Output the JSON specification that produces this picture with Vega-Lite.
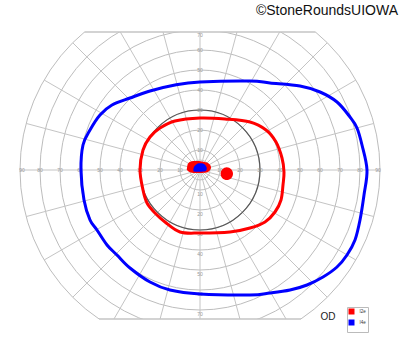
{
  "$schema": "https://vega.github.io/schema/vega-lite/v6.json",
  "width": 400,
  "height": 287,
  "autosize": {"type": "none"},
  "padding": {"left": 0, "right": 0, "top": 32, "bottom": 33},
  "background": "white",
  "view": {"stroke": null},
  "title": {"text": "©StoneRoundsUIOWA", "anchor": "end", "frame": "group", "font": "Liberation Sans", "fontSize": 14, "fontWeight": "normal", "color": "#111", "offset": 13, "dx": -2},
  "layer": [
    {
      "data": {"values": [{"r": 5}, {"r": 10}, {"r": 20}, {"r": 30}, {"r": 40}, {"r": 50}, {"r": 60}, {"r": 70}, {"r": 80}, {"r": 90}]},
      "mark": {"type": "point", "shape": "circle", "filled": false, "stroke": "#bdbdbd", "strokeWidth": 1, "opacity": 1, "clip": true},
      "encoding": {
        "x": {"datum": 0, "type": "quantitative", "scale": {"domain": [-100, 100], "nice": false, "zero": false}, "axis": null},
        "y": {"datum": 0, "type": "quantitative", "scale": {"domain": [-74.5, 69], "nice": false, "zero": false}, "axis": null},
        "size": {"field": "r", "type": "quantitative", "scale": {"type": "pow", "exponent": 2, "domain": [0, 90], "range": [0, 129600], "zero": true}, "legend": null}
      }
    },
    {
      "data": {"values": [
        {"x": -90, "y": 0, "x2": 90, "y2": 0},
        {"x": -86.93, "y": -23.29, "x2": 86.93, "y2": 23.29},
        {"x": -77.94, "y": -45, "x2": 77.94, "y2": 45},
        {"x": -63.64, "y": -63.64, "x2": 63.64, "y2": 63.64},
        {"x": -45, "y": -77.94, "x2": 45, "y2": 77.94},
        {"x": -23.29, "y": -86.93, "x2": 23.29, "y2": 86.93},
        {"x": 0, "y": -90, "x2": 0, "y2": 90},
        {"x": 23.29, "y": -86.93, "x2": -23.29, "y2": 86.93},
        {"x": 45, "y": -77.94, "x2": -45, "y2": 77.94},
        {"x": 63.64, "y": -63.64, "x2": -63.64, "y2": 63.64},
        {"x": 77.94, "y": -45, "x2": -77.94, "y2": 45},
        {"x": 86.93, "y": -23.29, "x2": -86.93, "y2": 23.29}
      ]},
      "mark": {"type": "rule", "stroke": "#c4c4c4", "strokeWidth": 1, "clip": true},
      "encoding": {
        "x": {"field": "x", "type": "quantitative", "axis": null},
        "y": {"field": "y", "type": "quantitative", "axis": null},
        "x2": {"field": "x2"},
        "y2": {"field": "y2"}
      }
    },
    {
      "data": {"values": [{"r": 30}]},
      "mark": {"type": "point", "shape": "circle", "filled": false, "stroke": "#555555", "strokeWidth": 1.2, "opacity": 1, "clip": true},
      "encoding": {
        "x": {"datum": 0, "type": "quantitative", "axis": null},
        "y": {"datum": 0, "type": "quantitative", "axis": null},
        "size": {"field": "r", "type": "quantitative", "legend": null}
      }
    },
    {
      "data": {"values": [{"x": -57.8, "x2": 57.8, "y": 69}, {"x": -50.5, "x2": 50.5, "y": -74.5}]},
      "mark": {"type": "rule", "stroke": "#c4c4c4", "strokeWidth": 1.5},
      "encoding": {
        "x": {"field": "x", "type": "quantitative", "axis": null},
        "x2": {"field": "x2"},
        "y": {"field": "y", "type": "quantitative", "axis": null}
      }
    },
    {
      "data": {"values": [
        {"t": "10", "x": -10, "y": 0}, {"t": "20", "x": -20, "y": 0}, {"t": "30", "x": -30, "y": 0}, {"t": "40", "x": -40, "y": 0}, {"t": "50", "x": -50, "y": 0}, {"t": "60", "x": -60, "y": 0}, {"t": "70", "x": -70, "y": 0}, {"t": "80", "x": -80, "y": 0}, {"t": "90", "x": -89, "y": 0},
        {"t": "10", "x": 10, "y": 0}, {"t": "20", "x": 20, "y": 0}, {"t": "30", "x": 30, "y": 0}, {"t": "40", "x": 40, "y": 0}, {"t": "50", "x": 50, "y": 0}, {"t": "60", "x": 60, "y": 0}, {"t": "70", "x": 70, "y": 0}, {"t": "80", "x": 80, "y": 0}, {"t": "90", "x": 89, "y": 0},
        {"t": "10", "x": 0, "y": 10}, {"t": "20", "x": 0, "y": 20}, {"t": "30", "x": 0, "y": 30}, {"t": "40", "x": 0, "y": 40}, {"t": "50", "x": 0, "y": 50}, {"t": "60", "x": 0, "y": 60}, {"t": "70", "x": 0, "y": 67.5},
        {"t": "10", "x": 0, "y": -12}, {"t": "20", "x": 0, "y": -22}, {"t": "30", "x": 0, "y": -32}, {"t": "40", "x": 0, "y": -42}, {"t": "50", "x": 0, "y": -52}, {"t": "60", "x": 0, "y": -62}, {"t": "70", "x": 0, "y": -72}
      ]},
      "mark": {"type": "text", "fontSize": 5, "font": "Liberation Sans", "color": "#999999", "baseline": "middle", "align": "center"},
      "encoding": {
        "x": {"field": "x", "type": "quantitative", "axis": null},
        "y": {"field": "y", "type": "quantitative", "axis": null},
        "text": {"field": "t"}
      }
    },
    {
      "data": {"values": [
        {"isopter": "I4e", "i": 1, "x": 0, "y": 44},
        {"isopter": "I4e", "i": 2, "x": 25, "y": 44.5},
        {"isopter": "I4e", "i": 3, "x": 35, "y": 43.5},
        {"isopter": "I4e", "i": 4, "x": 50, "y": 42},
        {"isopter": "I4e", "i": 5, "x": 60, "y": 39},
        {"isopter": "I4e", "i": 6, "x": 68.5, "y": 34},
        {"isopter": "I4e", "i": 7, "x": 75, "y": 26.5},
        {"isopter": "I4e", "i": 8, "x": 78.5, "y": 21},
        {"isopter": "I4e", "i": 9, "x": 81, "y": 12.5},
        {"isopter": "I4e", "i": 10, "x": 83.5, "y": 0},
        {"isopter": "I4e", "i": 11, "x": 82, "y": -12.5},
        {"isopter": "I4e", "i": 12, "x": 80, "y": -25},
        {"isopter": "I4e", "i": 13, "x": 77.5, "y": -35},
        {"isopter": "I4e", "i": 14, "x": 73.5, "y": -42.5},
        {"isopter": "I4e", "i": 15, "x": 68.5, "y": -48.5},
        {"isopter": "I4e", "i": 16, "x": 61.5, "y": -53.5},
        {"isopter": "I4e", "i": 17, "x": 53.5, "y": -57.5},
        {"isopter": "I4e", "i": 18, "x": 45, "y": -60},
        {"isopter": "I4e", "i": 19, "x": 35, "y": -61.5},
        {"isopter": "I4e", "i": 20, "x": 25, "y": -62.5},
        {"isopter": "I4e", "i": 21, "x": 0, "y": -62},
        {"isopter": "I4e", "i": 22, "x": -15, "y": -60},
        {"isopter": "I4e", "i": 23, "x": -25, "y": -56},
        {"isopter": "I4e", "i": 24, "x": -35, "y": -49},
        {"isopter": "I4e", "i": 25, "x": -41.5, "y": -42.5},
        {"isopter": "I4e", "i": 26, "x": -46.5, "y": -37.5},
        {"isopter": "I4e", "i": 27, "x": -51.5, "y": -30},
        {"isopter": "I4e", "i": 28, "x": -55, "y": -25},
        {"isopter": "I4e", "i": 29, "x": -58, "y": -15},
        {"isopter": "I4e", "i": 30, "x": -59.5, "y": 0},
        {"isopter": "I4e", "i": 31, "x": -58.5, "y": 12.5},
        {"isopter": "I4e", "i": 32, "x": -55, "y": 20},
        {"isopter": "I4e", "i": 33, "x": -50, "y": 27.5},
        {"isopter": "I4e", "i": 34, "x": -44, "y": 32.5},
        {"isopter": "I4e", "i": 35, "x": -35, "y": 36},
        {"isopter": "I4e", "i": 36, "x": -25, "y": 39.5},
        {"isopter": "I4e", "i": 37, "x": -12.5, "y": 42.5},
        {"isopter": "I2e", "i": 1, "x": -30, "y": 0},
        {"isopter": "I2e", "i": 2, "x": -28.5, "y": -10},
        {"isopter": "I2e", "i": 3, "x": -26.5, "y": -16.5},
        {"isopter": "I2e", "i": 4, "x": -22.5, "y": -21.5},
        {"isopter": "I2e", "i": 5, "x": -17.5, "y": -26},
        {"isopter": "I2e", "i": 6, "x": -10, "y": -31},
        {"isopter": "I2e", "i": 7, "x": 0, "y": -31.5},
        {"isopter": "I2e", "i": 8, "x": 15, "y": -31},
        {"isopter": "I2e", "i": 9, "x": 25, "y": -29},
        {"isopter": "I2e", "i": 10, "x": 32.5, "y": -26},
        {"isopter": "I2e", "i": 11, "x": 37.5, "y": -21},
        {"isopter": "I2e", "i": 12, "x": 40.5, "y": -15},
        {"isopter": "I2e", "i": 13, "x": 41.5, "y": -7.5},
        {"isopter": "I2e", "i": 14, "x": 42, "y": -1},
        {"isopter": "I2e", "i": 15, "x": 41, "y": 6},
        {"isopter": "I2e", "i": 16, "x": 38, "y": 14},
        {"isopter": "I2e", "i": 17, "x": 33, "y": 20},
        {"isopter": "I2e", "i": 18, "x": 25, "y": 24},
        {"isopter": "I2e", "i": 19, "x": 12.5, "y": 25.5},
        {"isopter": "I2e", "i": 20, "x": 0, "y": 26},
        {"isopter": "I2e", "i": 21, "x": -12.5, "y": 24.5},
        {"isopter": "I2e", "i": 22, "x": -20, "y": 21},
        {"isopter": "I2e", "i": 23, "x": -25, "y": 16.5},
        {"isopter": "I2e", "i": 24, "x": -28.5, "y": 10}
      ]},
      "mark": {"type": "line", "strokeWidth": 3, "interpolate": "cardinal-closed"},
      "encoding": {
        "x": {"field": "x", "type": "quantitative", "axis": null},
        "y": {"field": "y", "type": "quantitative", "axis": null},
        "order": {"field": "i", "type": "quantitative"},
        "color": {"field": "isopter", "type": "nominal", "scale": {"domain": ["I2e", "I4e"], "range": ["#ff0000", "#0000ff"]}, "legend": {"title": null, "orient": "none", "legendX": 347, "legendY": 275, "symbolType": "square", "symbolSize": 9, "symbolFillColor": "transparent", "symbolStrokeWidth": 3, "labelFontSize": 4.5, "labelFont": "Liberation Sans", "labelColor": "#333333", "labelOffset": 5, "rowPadding": -11.5, "padding": 1.5, "strokeColor": "#bbbbbb", "fillColor": "#ffffff"}}
      }
    },
    {
      "data": {"values": [
        {"isopter": "I2e", "spot": "a", "i": 1, "x": -6.5, "y": 1},
        {"isopter": "I2e", "spot": "a", "i": 2, "x": -6, "y": 3.2},
        {"isopter": "I2e", "spot": "a", "i": 3, "x": -4.5, "y": 4.3},
        {"isopter": "I2e", "spot": "a", "i": 4, "x": -2, "y": 4.5},
        {"isopter": "I2e", "spot": "a", "i": 5, "x": 1, "y": 4.3},
        {"isopter": "I2e", "spot": "a", "i": 6, "x": 3.5, "y": 3.7},
        {"isopter": "I2e", "spot": "a", "i": 7, "x": 5, "y": 2.6},
        {"isopter": "I2e", "spot": "a", "i": 8, "x": 5.5, "y": 1},
        {"isopter": "I2e", "spot": "a", "i": 9, "x": 4.5, "y": -0.6},
        {"isopter": "I2e", "spot": "a", "i": 10, "x": 2.5, "y": -1.4},
        {"isopter": "I2e", "spot": "a", "i": 11, "x": -2.5, "y": -1.5},
        {"isopter": "I2e", "spot": "a", "i": 12, "x": -5, "y": -1.1},
        {"isopter": "I2e", "spot": "a", "i": 13, "x": -6.5, "y": 0},
        {"isopter": "I2e", "spot": "b", "i": 1, "x": 16.5, "y": -1.85},
        {"isopter": "I2e", "spot": "b", "i": 2, "x": 15.6, "y": 0.4},
        {"isopter": "I2e", "spot": "b", "i": 3, "x": 13.4, "y": 1.35},
        {"isopter": "I2e", "spot": "b", "i": 4, "x": 11.2, "y": 0.4},
        {"isopter": "I2e", "spot": "b", "i": 5, "x": 10.3, "y": -1.85},
        {"isopter": "I2e", "spot": "b", "i": 6, "x": 11.2, "y": -4.1},
        {"isopter": "I2e", "spot": "b", "i": 7, "x": 13.4, "y": -5.05},
        {"isopter": "I2e", "spot": "b", "i": 8, "x": 15.6, "y": -4.1},
        {"isopter": "I4e", "spot": "c", "i": 1, "x": -3.25, "y": -0.5},
        {"isopter": "I4e", "spot": "c", "i": 2, "x": -3, "y": 1.5},
        {"isopter": "I4e", "spot": "c", "i": 3, "x": -1.5, "y": 3},
        {"isopter": "I4e", "spot": "c", "i": 4, "x": 0, "y": 3.35},
        {"isopter": "I4e", "spot": "c", "i": 5, "x": 2, "y": 3},
        {"isopter": "I4e", "spot": "c", "i": 6, "x": 3.25, "y": 1.5},
        {"isopter": "I4e", "spot": "c", "i": 7, "x": 3.25, "y": 0},
        {"isopter": "I4e", "spot": "c", "i": 8, "x": 2, "y": -0.75},
        {"isopter": "I4e", "spot": "c", "i": 9, "x": -2, "y": -0.85}
      ]},
      "mark": {"type": "line", "filled": true, "interpolate": "cardinal-closed"},
      "encoding": {
        "x": {"field": "x", "type": "quantitative", "axis": null},
        "y": {"field": "y", "type": "quantitative", "axis": null},
        "order": {"field": "i", "type": "quantitative"},
        "detail": {"field": "spot"},
        "fill": {"field": "isopter", "type": "nominal", "scale": {"domain": ["I2e", "I4e"], "range": ["#ff0000", "#0000ff"]}, "legend": null}
      }
    },
    {
      "data": {"values": [{"label": "OD", "x": 64, "y": -73.5}]},
      "mark": {"type": "text", "fontSize": 10, "font": "Liberation Sans", "color": "#222222", "baseline": "middle", "align": "center"},
      "encoding": {
        "x": {"field": "x", "type": "quantitative", "axis": null},
        "y": {"field": "y", "type": "quantitative", "axis": null},
        "text": {"field": "label"}
      }
    }
  ]
}
